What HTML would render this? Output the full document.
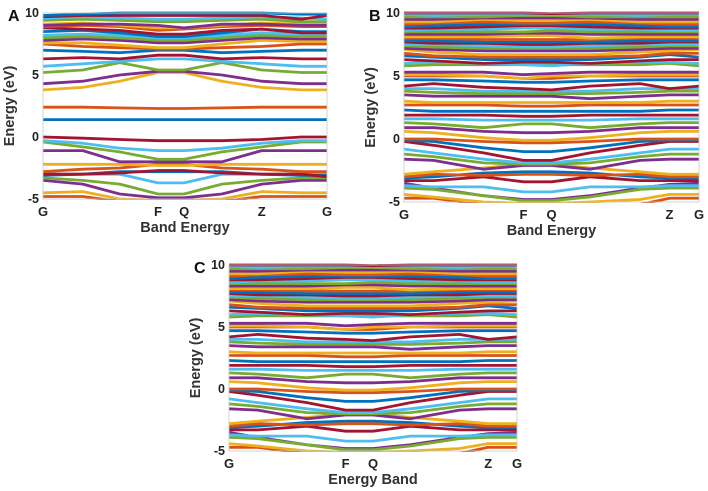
<!DOCTYPE html>
<html><head><meta charset="utf-8"><style>
html,body{margin:0;padding:0;background:#fff;}
svg{display:block;font-family:"Liberation Sans",Arial,sans-serif;font-weight:bold;}
</style></head><body>
<svg id="fig" width="708" height="491" viewBox="0 0 708 491"></svg>
<script>
const colors=["#0072BD","#D95319","#EDB120","#7E2F8E","#77AC30","#4DBEEE","#A2142F"];
const colorIdxA=[1,2,3,4,5,0,6,1,2,3,4,5,6,0,1,2,3,4,5,6,0,1,2,3,4,5,0,6,1,2,3,4,5,6,0];
const yTicks=[10,5,0,-5];
const kLabels=["G","F","Q","Z","G"];
const kFracA=[0,0.14,0.27,0.405,0.497,0.63,0.77,0.91,1];
const kTickA=[0,0.405,0.497,0.77,1];
const kFracB=[0,0.1,0.27,0.405,0.5,0.63,0.8,0.9,1];
const kTickB=[0,0.405,0.5,0.9,1];
const bandsA=[
[-4.8,-4.8,-5.2,-5.3,-5.3,-5.2,-4.8,-4.8,-4.8],
[-4.5,-4.4,-5.0,-5.1,-5.1,-5.0,-4.4,-4.5,-4.5],
[-3.5,-3.8,-4.6,-4.9,-4.9,-4.6,-3.8,-3.5,-3.5],
[-3.3,-3.5,-3.8,-4.6,-4.6,-3.8,-3.5,-3.3,-3.3],
[-3.0,-3.0,-3.0,-3.7,-3.7,-3.0,-3.0,-3.0,-3.0],
[-3.1,-3.0,-2.8,-2.8,-2.8,-2.8,-3.0,-3.1,-3.1],
[-3.0,-3.0,-2.9,-2.7,-2.7,-2.9,-3.0,-3.0,-3.2],
[-2.8,-2.6,-2.5,-2.2,-2.2,-2.5,-2.6,-2.8,-2.8],
[-2.2,-2.2,-2.2,-2.3,-2.3,-2.2,-2.2,-2.2,-2.2],
[-1.1,-1.1,-2.0,-2.0,-2.0,-2.0,-1.1,-1.1,-1.1],
[-0.4,-0.8,-1.2,-1.8,-1.8,-1.2,-0.8,-0.4,-0.4],
[-0.3,-0.5,-0.9,-1.1,-1.1,-0.9,-0.5,-0.3,-0.3],
[0,-0.1,-0.2,-0.3,-0.3,-0.3,-0.2,0,0],
[1.4,1.4,1.4,1.4,1.4,1.4,1.4,1.4,1.4],
[2.4,2.4,2.35,2.3,2.3,2.35,2.4,2.4,2.4],
[3.8,4.0,4.5,5.2,5.2,4.5,4.0,3.8,3.8],
[4.3,4.5,5.0,5.3,5.3,5.0,4.5,4.3,4.3],
[5.2,5.4,6.0,5.4,5.4,6.0,5.4,5.2,5.2],
[5.7,5.9,6.1,6.3,6.3,6.1,5.9,5.7,5.7],
[6.3,6.4,6.3,6.6,6.6,6.3,6.4,6.3,6.3],
[7.0,6.9,6.8,7.0,7.0,6.8,6.9,7.0,7.0],
[7.5,7.3,7.2,7.1,7.1,7.2,7.3,7.5,7.5],
[7.6,7.6,7.4,7.2,7.2,7.5,7.8,7.7,7.7],
[7.8,7.9,7.8,7.6,7.6,7.8,8.0,7.9,7.9],
[8.0,8.1,8.0,7.8,7.8,8.0,8.2,8.1,8.1],
[8.2,8.3,8.2,8.0,8.0,8.2,8.4,8.3,8.3],
[8.5,8.6,8.4,8.1,8.1,8.4,8.7,8.5,8.5],
[8.8,8.7,8.6,8.3,8.3,8.6,8.7,8.4,8.4],
[8.9,9.0,8.9,8.6,8.7,8.9,9.0,8.9,8.9],
[9.1,9.2,9.0,8.8,8.8,9.0,9.2,9.1,9.1],
[9.0,9.1,9.1,9.0,8.8,9.1,9.1,9.0,9.0],
[9.4,9.5,9.4,9.3,9.3,9.4,9.5,9.3,9.3],
[9.6,9.7,9.6,9.5,9.5,9.6,9.7,9.6,9.5],
[9.7,9.8,9.8,9.8,9.8,9.8,9.8,9.5,9.8],
[9.8,9.9,10,10,10,10,10,9.9,9.9]
];
const bandsB=[
[-4.7,-4.7,-5.2,-5.2,-5.2,-5.2,-5.2,-4.7,-4.7],
[-4.4,-4.6,-5.0,-5.1,-5.1,-5.0,-4.8,-4.4,-4.4],
[-3.5,-3.9,-4.5,-4.8,-4.8,-4.5,-3.9,-3.6,-3.5],
[-3.9,-4.0,-4.5,-4.9,-4.9,-4.6,-4.0,-3.9,-3.9],
[-3.7,-3.8,-3.8,-4.2,-4.2,-3.8,-3.8,-3.7,-3.7],
[-3.3,-3.3,-3.0,-3.4,-3.4,-3.0,-3.3,-3.3,-3.3],
[-3.1,-3.0,-2.7,-2.6,-2.6,-2.7,-3.0,-3.1,-3.1],
[-3.0,-2.8,-2.9,-2.8,-2.8,-2.9,-2.8,-3.0,-3.0],
[-2.8,-2.6,-2.3,-2.0,-2.0,-2.3,-2.6,-2.8,-2.8],
[-1.6,-1.7,-2.4,-2.1,-2.1,-2.4,-1.7,-1.6,-1.6],
[-1.2,-1.4,-1.9,-2.0,-2.0,-1.9,-1.4,-1.2,-1.2],
[-0.8,-1.1,-1.6,-1.9,-1.9,-1.6,-1.1,-0.8,-0.8],
[-0.2,-0.5,-1.1,-1.7,-1.7,-1.1,-0.5,-0.2,-0.2],
[-0.1,-0.2,-0.7,-1.0,-1.0,-0.7,-0.2,-0.1,-0.1],
[0,0,-0.2,-0.3,-0.3,-0.2,0,0,0],
[0.6,0.5,0.1,-0.1,-0.1,0.1,0.5,0.6,0.6],
[0.9,0.9,0.6,0.5,0.5,0.6,0.9,0.9,0.9],
[1.3,1.2,0.9,1.2,1.2,0.9,1.2,1.3,1.3],
[1.6,1.6,1.5,1.5,1.5,1.5,1.6,1.6,1.6],
[1.9,1.9,1.9,1.8,1.8,1.9,1.9,1.9,1.9],
[2.3,2.2,2.2,2.2,2.2,2.2,2.2,2.3,2.3],
[2.7,2.7,2.7,2.6,2.6,2.7,2.7,2.7,2.7],
[3.0,2.9,2.9,2.9,2.9,2.9,2.9,3.0,3.0],
[3.5,3.4,3.4,3.4,3.4,3.2,3.4,3.5,3.5],
[3.8,3.7,3.6,3.6,3.6,3.6,3.7,3.8,3.8],
[4.0,4.0,3.8,3.8,3.8,3.8,4.0,4.0,4.0],
[4.2,4.4,4.1,4.0,3.9,4.2,4.4,4.0,4.2],
[4.7,4.7,4.6,4.5,4.5,4.6,4.7,4.7,4.7],
[5.0,5.0,5.0,4.8,4.8,5.0,5.0,5.0,5.0],
[5.1,5.1,5.0,4.8,5.0,5.0,5.1,5.1,5.1],
[5.3,5.3,5.3,5.1,5.2,5.3,5.3,5.3,5.3],
[5.8,5.9,5.9,5.9,5.9,5.9,5.9,6.0,5.8],
[6.0,6.1,6.0,5.9,5.8,6.0,6.1,6.1,6.0],
[6.3,6.2,6.0,6.1,6.1,6.0,6.2,6.3,6.3],
[6.6,6.5,6.3,6.3,6.3,6.3,6.5,6.7,6.5],
[6.8,6.6,6.5,6.5,6.5,6.5,6.6,6.8,6.8],
[7.1,6.9,6.7,6.7,6.7,6.7,6.9,7.0,7.1],
[7.2,7.1,7.0,7.0,7.0,7.0,7.1,7.2,7.2],
[7.4,7.3,7.2,7.2,7.2,7.2,7.3,7.4,7.4],
[7.5,7.5,7.4,7.3,7.3,7.4,7.5,7.5,7.5],
[7.7,7.6,7.6,7.5,7.5,7.6,7.6,7.7,7.7],
[7.8,7.8,7.7,7.7,7.7,7.7,7.8,7.8,7.8],
[8.0,8.0,7.9,7.9,7.9,7.9,8.0,8.0,8.0],
[8.1,8.1,8.1,8.2,8.2,8.0,8.1,8.1,8.1],
[8.3,8.3,8.3,8.4,8.4,8.3,8.3,8.3,8.3],
[8.5,8.5,8.5,8.5,8.6,8.5,8.5,8.5,8.5],
[8.6,8.7,8.7,8.8,8.8,8.7,8.7,8.6,8.6],
[8.8,8.8,8.9,9.0,9.0,8.9,8.8,8.8,8.8],
[8.9,9.0,9.1,9.1,9.1,9.1,9.0,8.9,8.9],
[9.1,9.2,9.3,9.2,9.2,9.3,9.2,9.1,9.1],
[9.3,9.3,9.5,9.4,9.4,9.5,9.3,9.3,9.3],
[9.5,9.5,9.6,9.6,9.6,9.6,9.5,9.5,9.5],
[9.7,9.7,9.7,9.8,9.8,9.7,9.7,9.7,9.7],
[9.9,9.8,9.9,9.9,9.9,9.9,9.8,9.9,9.9],
[10,10,10,10,9.95,10,10,10,10]
];
const NS="http://www.w3.org/2000/svg";
const svg=document.getElementById("fig");
function mk(tag,attrs,parent){const e=document.createElementNS(NS,tag);for(const k in attrs)e.setAttribute(k,attrs[k]);(parent||svg).appendChild(e);return e;}
function panel(id,letter,L,R,T,B,kFrac,kTick,bands,xTitle,cIdx){
  const g=mk("g",{});
  
  
  const xs=f=>L+f*(R-L);
  const ys=v=>T+(10-v)/15*(B-T);
  const cp=mk("clipPath",{id:"clip"+id},g);
  mk("rect",{x:L,y:T-2,width:R-L,height:B-T+3},cp);
  const lines=mk("g",{"clip-path":"url(#clip"+id+")"},g);
  
  
  bands.forEach((b,i)=>{
    const pts=b.map((v,j)=>xs(kFrac[j]).toFixed(1)+","+ys(v).toFixed(1)).join(" ");
    const ci=cIdx?cIdx[i%cIdx.length]:(i+1)%7;
    const p=mk("polyline",{points:pts,fill:"none",stroke:colors[ci],"stroke-width":2.8,"stroke-linejoin":"round"},lines);
    
    
  });
  const box=mk("rect",{x:L,y:T,width:R-L,height:B-T,fill:"none",stroke:"#c8c8c8","stroke-width":0.8},g);
  
  
  yTicks.forEach(v=>{
    const t=mk("text",{x:L-4,y:ys(v)+4,"text-anchor":"end","font-size":12.5,fill:"#222"},g);
    t.textContent=String(v);
    
    
  });
  kTick.forEach((f,i)=>{
    const t=mk("text",{x:xs(f),y:B+17,"text-anchor":"middle","font-size":13,fill:"#222"},g);
    t.textContent=kLabels[i];
    
    
  });
  const xt=mk("text",{x:(L+R)/2,y:B+33,"text-anchor":"middle","font-size":14.5,fill:"#333"},g);
  xt.textContent=xTitle;
  
  
  const cy=(T+B)/2, cx=L-29;
  const yt=mk("text",{x:cx,y:cy,"text-anchor":"middle","font-size":14.5,fill:"#333",transform:"rotate(-90 "+cx+" "+cy+")"},g);
  yt.textContent="Energy (eV)";
  
  
  const pl=mk("text",{x:L-35,y:T+8,"font-size":16,fill:"#111"},g);
  pl.textContent=letter;
  
  
}
panel("a","A",43,327,13,199,kFracA,kTickA,bandsA,"Band Energy",colorIdxA);
panel("b","B",404,699,13,202,kFracB,kTickB,bandsB,"Band Energy",null);
panel("c","C",229,517,265,451,kFracB,kTickB,bandsB,"Energy Band",null);
</script>
</body></html>
